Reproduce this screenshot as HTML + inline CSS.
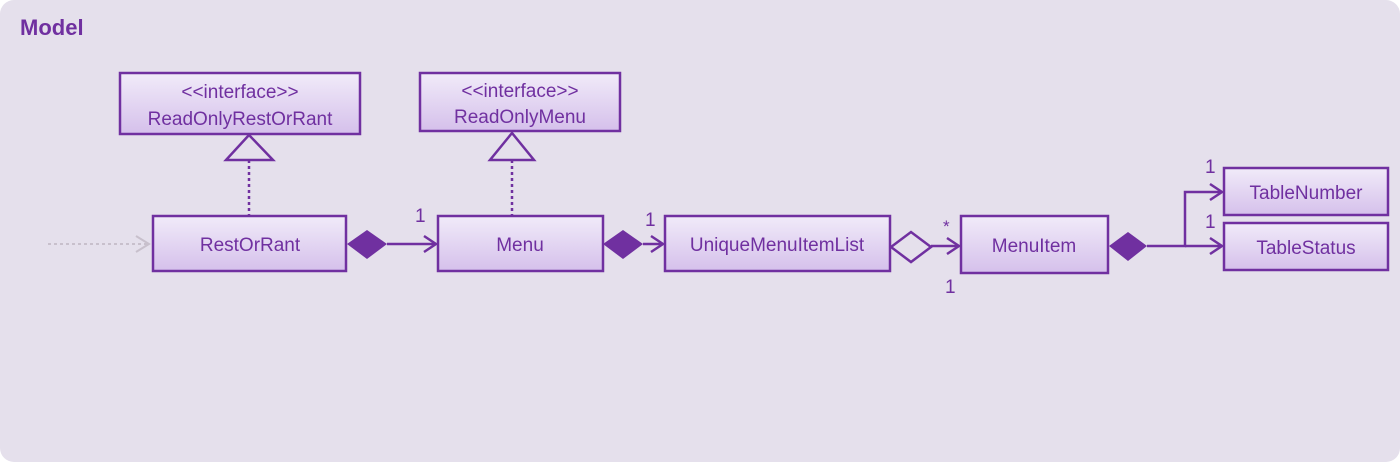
<!DOCTYPE html>
<html><head><meta charset="utf-8"><style>
html,body{margin:0;padding:0;background:#fff;}
svg{display:block;}
text{font-family:"Liberation Sans",sans-serif;fill:#7030a0;}
</style></head><body>
<svg width="1400" height="462" viewBox="0 0 1400 462" xmlns="http://www.w3.org/2000/svg">
<defs>
<linearGradient id="g" x1="0" y1="0" x2="0" y2="1">
<stop offset="0" stop-color="#f1ebf9"/><stop offset="1" stop-color="#d5c0eb"/>
</linearGradient>
</defs>
<rect x="0" y="0" width="1400" height="462" rx="14" fill="#e5e0ec"/>
<text x="20" y="35" font-size="22" font-weight="bold">Model</text>
<g stroke="#7030a0" stroke-width="2.5" fill="url(#g)">
<rect x="120" y="73" width="240" height="61"/>
<rect x="420" y="73" width="200" height="58"/>
<rect x="153" y="216" width="193" height="55"/>
<rect x="438" y="216" width="165" height="55"/>
<rect x="665" y="216" width="225" height="55"/>
<rect x="961" y="216" width="147" height="57"/>
<rect x="1224" y="168" width="164" height="47"/>
<rect x="1224" y="223" width="164" height="47"/>
</g>
<g font-size="19" text-anchor="middle">
<text x="240" y="98">&lt;&lt;interface&gt;&gt;</text>
<text x="240" y="125">ReadOnlyRestOrRant</text>
<text x="520" y="97">&lt;&lt;interface&gt;&gt;</text>
<text x="520" y="123">ReadOnlyMenu</text>
<text x="250" y="251">RestOrRant</text>
<text x="520" y="251">Menu</text>
<text x="777" y="251">UniqueMenuItemList</text>
<text x="1034" y="252">MenuItem</text>
<text x="1306" y="199">TableNumber</text>
<text x="1306" y="254">TableStatus</text>
</g>
<g stroke="#7030a0" stroke-width="2.5" fill="none">
<polygon points="249,135 226,160 273,160"/>
<line x1="249" y1="160" x2="249" y2="215" stroke-dasharray="3,3"/>
<polygon points="512,133 490,160 534,160"/>
<line x1="512" y1="160" x2="512" y2="215" stroke-dasharray="3,3"/>
<line x1="387" y1="244" x2="436" y2="244"/>
<polyline points="424,236 436,244 424,252"/>
<line x1="643" y1="244" x2="663" y2="244"/>
<polyline points="651,236 663,244 651,252"/>
<line x1="931" y1="246" x2="959" y2="246"/>
<polyline points="947,238 959,246 947,254"/>
<polygon points="891,247 911,232 931,247 911,262" fill="none"/>
<polyline points="1147,246 1185,246 1185,192 1222,192"/>
<line x1="1185" y1="246" x2="1222" y2="246"/>
<polyline points="1210,184 1222,192 1210,200"/>
<polyline points="1210,238 1222,246 1210,254"/>
</g>
<g fill="#7030a0">
<polygon points="347,244 367,230 387,244 367,259"/>
<polygon points="603,244 623,230 643,244 623,259"/>
<polygon points="1109,246 1128,232 1147,246 1128,261"/>
</g>
<g stroke="#c8c0cc" stroke-width="2" fill="none">
<line x1="48" y1="244" x2="148" y2="244" stroke-dasharray="3,3"/>
<polyline points="136,236 149,244 136,252"/>
</g>
<g font-size="19">
<text x="415" y="222">1</text>
<text x="645" y="226">1</text>
<text x="943" y="232" font-size="17">*</text>
<text x="945" y="293">1</text>
<text x="1205" y="173">1</text>
<text x="1205" y="228">1</text>
</g>
</svg>
</body></html>
